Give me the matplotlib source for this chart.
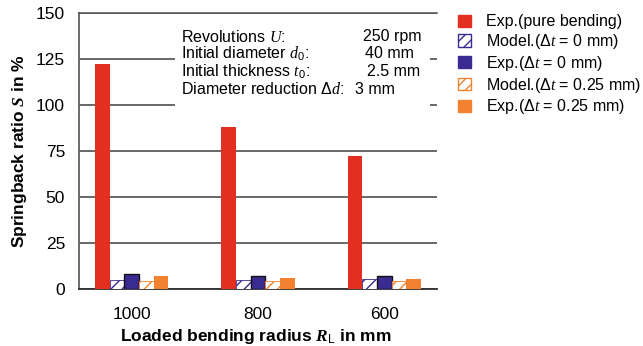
import numpy as np
import matplotlib
matplotlib.use('Agg')
import matplotlib.pyplot as plt
from matplotlib.patches import Patch, Rectangle

plt.rcParams['font.family'] = ['Liberation Sans', 'DejaVu Sans']
plt.rcParams['mathtext.fontset'] = 'custom'
plt.rcParams['mathtext.rm'] = 'Liberation Sans'
plt.rcParams['mathtext.it'] = 'Liberation Serif:italic'
plt.rcParams['mathtext.bf'] = 'Liberation Sans:bold'
plt.rcParams['mathtext.bfit'] = 'Liberation Serif:italic:bold'
plt.rcParams['hatch.linewidth'] = 1.0

# bending radius groups
radii = ['1000', '800', '600']

# springback ratio S in %
exp_pure = [122.1, 88.2, 72.3]
model_dt0 = [4.9, 5.0, 5.3]
exp_dt0 = [8.0, 7.2, 7.1]
model_dt025 = [4.3, 4.3, 4.5]
exp_dt025 = [7.1, 6.1, 5.4]

series_labels = ['Exp.(pure bending)', r'Model.($\Delta t$ = 0 mm)', r'Exp.($\Delta t$ = 0 mm)',
                 r'Model.($\Delta t$ = 0.25 mm)', r'Exp.($\Delta t$ = 0.25 mm)']

info_names = [r'Revolutions $U$:', r'Initial diameter $d_{0}$:', r'Initial thickness $t_{0}$:',
              r'Diameter reduction $\Delta d$:']
info_values = ['250 rpm', '40 mm', '2.5 mm', '3 mm']

RED = '#E1301F'
PURPLE = '#3A2B92'
ORANGE = '#F2822F'

W, H = 643, 346
fig = plt.figure(figsize=(W / 100, H / 100), dpi=100)
ax = fig.add_axes([79 / W, 1 - 289 / H, (437 - 79) / W, (289 - 13) / H])

x = np.arange(len(radii))
bw = 0.116
styles = [
    (exp_pure, dict(color=RED, edgecolor='none')),
    (model_dt0, dict(color='white', edgecolor=PURPLE, hatch='///', linewidth=0.6)),
    (exp_dt0, dict(color=PURPLE, edgecolor='#111111', linewidth=1.0)),
    (model_dt025, dict(color='white', edgecolor=ORANGE, hatch='///', linewidth=0.6)),
    (exp_dt025, dict(color=ORANGE, edgecolor='none')),
]
for i, (vals, kw) in enumerate(styles):
    ax.bar(x + (i - 2) * bw, vals, bw, zorder=3, **kw)

ax.set_xlim(-0.417, 2.417)
ax.set_ylim(0, 150)
ax.set_xticks(x)
ax.set_xticklabels(radii)
ax.set_yticks(np.arange(0, 151, 25))
ax.tick_params(axis='both', length=0, labelsize=12.5)
ax.tick_params(axis='x', pad=13)
ax.tick_params(axis='y', pad=10)

ax.set_axisbelow(True)
ax.yaxis.grid(True, color='#404040', linewidth=1.1)
ax.spines['right'].set_visible(False)
ax.spines['top'].set_color('#505050')
ax.spines['top'].set_linewidth(1.1)
ax.spines['left'].set_color('#606060')
ax.spines['left'].set_linewidth(1.3)
ax.spines['bottom'].set_color('#303030')
ax.spines['bottom'].set_linewidth(1.3)

# white box behind the process parameters
ax.add_patch(Rectangle((175 / W, 1 - 108 / H), (430 - 175) / W, (108 - 24) / H,
                       transform=fig.transFigure, facecolor='white', edgecolor='none',
                       zorder=1))
rows_y = [37, 54, 72, 89]
val_x = [363, 365, 367, 355]
for name, val, yy, vx in zip(info_names, info_values, rows_y, val_x):
    fig.text(181 / W, 1 - yy / H, name, fontsize=11.5, va='center', ha='left')
    fig.text(vx / W, 1 - yy / H, val, fontsize=11.5, va='center', ha='left')

handles = []
for (vals, kw), lab in zip(styles, series_labels):
    face = kw['color']
    edge = kw['edgecolor']
    if edge == 'none' or face == PURPLE:
        edge = face
    handles.append(Patch(facecolor=face, edgecolor=edge, hatch=kw.get('hatch'),
                         linewidth=1.0, label=lab))
fig.legend(handles=handles, loc='upper left', bbox_to_anchor=(452 / W, 1 - 8 / H),
           frameon=False, fontsize=11.5, handlelength=0.8, handleheight=0.8,
           handletextpad=0.9, labelspacing=0.17, borderaxespad=0)

fig.text(20 / W, 1 - 151 / H, r'Springback ratio $\mathbfit{S}$ in %', rotation=90,
         fontsize=12.5, fontweight='bold', ha='center', va='center')
fig.text(256 / W, 1 - 337 / H, r'Loaded bending radius $\mathbfit{R}_{\mathrm{L}}$ in mm',
         fontsize=12.5, fontweight='bold', ha='center', va='center')

fig.savefig('out.png', dpi=100)
